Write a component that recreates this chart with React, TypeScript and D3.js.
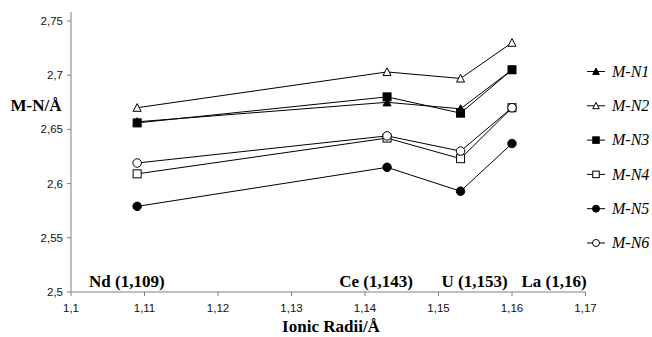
import * as d3 from "d3";

const categories = ["Nd (1,109)", "Ce (1,143)", "U (1,153)", "La (1,16)"];
const radii = [1.109, 1.143, 1.153, 1.16];

const seriesNames = ["M-N1", "M-N2", "M-N3", "M-N4", "M-N5", "M-N6"];
const mn1 = [2.657, 2.675, 2.669, 2.705];
const mn2 = [2.670, 2.703, 2.697, 2.730];
const mn3 = [2.656, 2.680, 2.665, 2.705];
const mn4 = [2.609, 2.642, 2.623, 2.670];
const mn5 = [2.579, 2.615, 2.593, 2.637];
const mn6 = [2.619, 2.644, 2.630, 2.670];

const xTicks = [1.1, 1.11, 1.12, 1.13, 1.14, 1.15, 1.16, 1.17];
const yTicks = [2.5, 2.55, 2.6, 2.65, 2.7, 2.75];

type Shape = "triangle" | "square" | "circle";
const shapes: Shape[] = ["triangle", "triangle", "square", "square", "circle", "circle"];
const filled = [true, false, true, false, true, false];

const fmt = (v: number) => String(+v.toFixed(3)).replace(".", ",");

function Marker({ shape, fill, x, y, s }: { shape: Shape; fill: boolean; x: number; y: number; s: number }) {
  const c = fill ? "#000" : "#fff";
  if (shape === "circle") return <circle cx={x} cy={y} r={s / 2} fill={c} stroke="#000" strokeWidth={1} />;
  if (shape === "square")
    return <rect x={x - s / 2} y={y - s / 2} width={s} height={s} fill={c} stroke="#000" strokeWidth={1} />;
  const h = s * 0.9;
  return (
    <path
      d={`M${x},${y - h / 2 - 0.5} L${x + s / 2},${y + h / 2} L${x - s / 2},${y + h / 2} Z`}
      fill={c}
      stroke="#000"
      strokeWidth={1}
    />
  );
}

export default function App() {
  const width = 652;
  const height = 337;
  const x = d3.scaleLinear().domain([1.1, 1.17]).range([71, 585.5]);
  const y = d3.scaleLinear().domain([2.5, 2.75]).range([292, 21]);
  const data = [mn1, mn2, mn3, mn4, mn5, mn6];
  const line = d3
    .line<number>()
    .x((_, i) => x(radii[i]))
    .y((d) => y(d));
  const legendY = d3.scalePoint<string>().domain(seriesNames).range([71.5, 243]);
  const serif = "'Liberation Serif', 'Times New Roman', serif";
  const sans = "'Liberation Sans', Arial, sans-serif";

  return (
    <svg width={width} height={height} style={{ position: "absolute", left: 0, top: 0, background: "#fff" }}>
      {/* axes */}
      <line x1={x(1.1)} x2={x(1.1)} y1={12} y2={y(2.5)} stroke="#808080" />
      <line x1={x(1.1)} x2={x(1.17)} y1={y(2.5)} y2={y(2.5)} stroke="#808080" />
      {yTicks.map((t) => (
        <g key={t}>
          <line x1={x(1.1) - 4} x2={x(1.1)} y1={y(t)} y2={y(t)} stroke="#808080" />
          <text x={63} y={y(t)} dy="0.35em" textAnchor="end" fontFamily={sans} fontSize={11.5} fill="#111">
            {fmt(t)}
          </text>
        </g>
      ))}
      {xTicks.map((t) => (
        <g key={t}>
          <line x1={x(t)} x2={x(t)} y1={y(2.5)} y2={y(2.5) + 4} stroke="#808080" />
          <text x={x(t)} y={311.5} textAnchor="middle" fontFamily={sans} fontSize={11.5} fill="#111">
            {fmt(t)}
          </text>
        </g>
      ))}
      {/* category labels */}
      {categories.map((c, i) => (
        <text
          key={c}
          x={i === 0 ? 89 : x(radii[i]) + (i === 3 ? 42 : i === 2 ? 14 : -11)}
          y={287}
          textAnchor={i === 0 ? "start" : "middle"}
          fontFamily={serif}
          fontWeight="bold"
          fontSize={17}
        >
          {c}
        </text>
      ))}
      {/* axis titles */}
      <text x={36} y={111} textAnchor="middle" fontFamily={serif} fontWeight="bold" fontSize={17}>
        M-N/Å
      </text>
      <text x={331} y={332} textAnchor="middle" fontFamily={serif} fontWeight="bold" fontSize={17}>
        Ionic Radii/Å
      </text>
      {/* series */}
      {data.map((d, k) => (
        <g key={seriesNames[k]}>
          <path d={line(d) ?? ""} fill="none" stroke="#000" strokeWidth={1} />
          {d.map((v, i) => (
            <Marker key={i} shape={shapes[k]} fill={filled[k]} x={x(radii[i])} y={y(v)} s={shapes[k] === "circle" ? 8.5 : 8} />
          ))}
        </g>
      ))}
      {/* legend */}
      {seriesNames.map((n, k) => (
        <g key={n}>
          <line x1={587} x2={605} y1={legendY(n)!} y2={legendY(n)!} stroke="#000" />
          <Marker shape={shapes[k]} fill={filled[k]} x={596} y={legendY(n)!} s={shapes[k] === "circle" ? 7 : 6.5} />
          <text x={612} y={legendY(n)!} dy="0.33em" fontFamily={serif} fontStyle="italic" fontSize={16}>
            {n}
          </text>
        </g>
      ))}
    </svg>
  );
}
